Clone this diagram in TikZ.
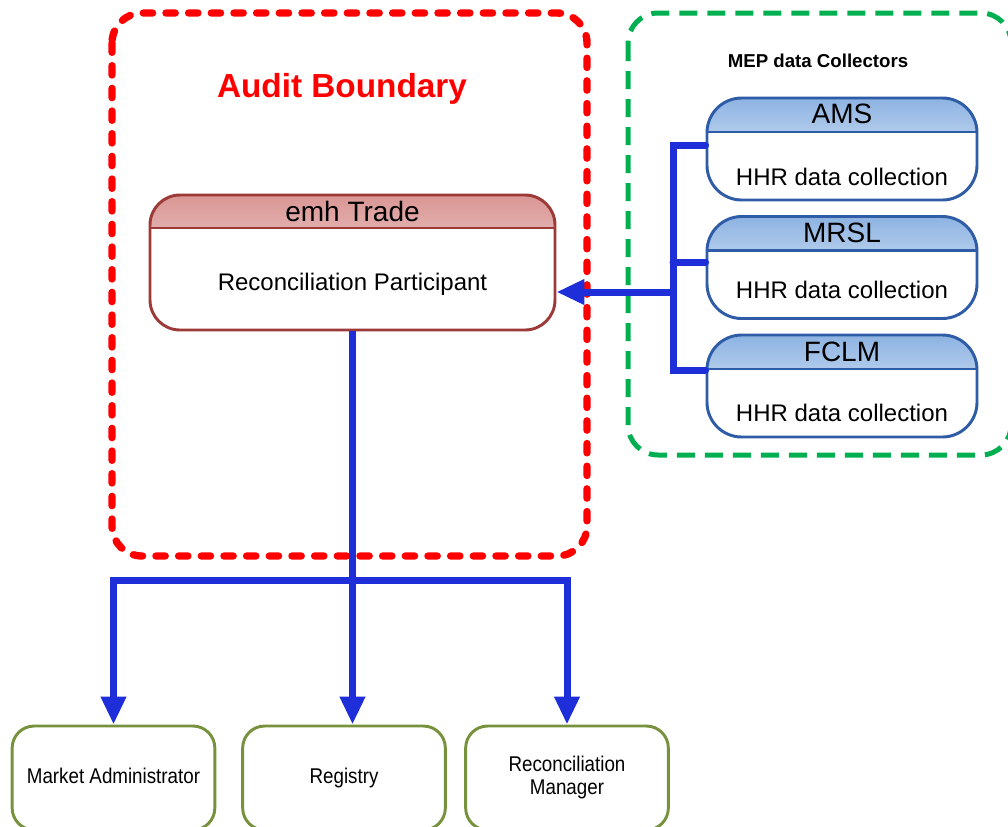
\documentclass[tikz,border=0pt]{standalone}
\usepackage{fontspec}
\setmainfont{Liberation Sans}
\usetikzlibrary{arrows.meta,calc}
\definecolor{auditred}{HTML}{FF0000}
\definecolor{mepgreen}{HTML}{00B050}
\definecolor{emhc}{HTML}{9B3A36}
\definecolor{emhtop}{HTML}{D99694}
\definecolor{bluec}{HTML}{2E5CA6}
\definecolor{bluetop}{HTML}{8DB3E2}
\definecolor{olive}{HTML}{76923C}
\definecolor{arrblue}{HTML}{1E2ED8}
\tikzset{
  auditbox/.style={draw=auditred, line width=5.5pt, line cap=round, dash pattern=on 7pt off 10pt, rounded corners=22.5pt},
  mepbox/.style={draw=mepgreen, line width=3.75pt, dash pattern=on 13.5pt off 7.5pt, rounded corners=22.5pt},
  emhbox/.style={draw=emhc, line width=2.2pt, rounded corners=22.5pt, inner sep=0pt,
    minimum width=303.75pt, minimum height=101.25pt,
    path picture={
      \shade[sharp corners, top color=emhtop, bottom color=emhtop!8] (path picture bounding box.north west) rectangle ([yshift=-24.75pt]path picture bounding box.north east);
      \draw[sharp corners, emhc, line width=1.8pt] ([yshift=-24.75pt]path picture bounding box.north west) -- ([yshift=-24.75pt]path picture bounding box.north east);
    }},
  collbox/.style={draw=bluec, line width=2.2pt, rounded corners=26pt, inner sep=0pt,
    minimum width=202.5pt, minimum height=76.5pt,
    path picture={
      \shade[sharp corners, top color=bluetop, bottom color=bluetop!10] (path picture bounding box.north west) rectangle ([yshift=-25.5pt]path picture bounding box.north east);
      \draw[sharp corners, bluec, line width=1.8pt] ([yshift=-25.5pt]path picture bounding box.north west) -- ([yshift=-25.5pt]path picture bounding box.north east);
    }},
  partybox/.style={draw=olive, line width=2.2pt, rounded corners=16.5pt, inner sep=0pt,
    minimum width=152pt, minimum height=78pt, align=center},
  titletext/.style={font=\fontsize{21}{24}\selectfont, inner sep=0pt},
  bodytext/.style={font=\fontsize{18}{21}\selectfont, inner sep=0pt},
  flow/.style={draw=arrblue, line width=5.25pt, line join=miter},
  flowarrow/.style={flow, -{Triangle[width=18pt,length=21pt]}},
}
\newcommand{\narrowtext}[1]{\scalebox{0.88}[1]{\fontsize{16}{17.5}\selectfont\begin{tabular}{@{}c@{}}#1\end{tabular}}}
\begin{document}
\begin{tikzpicture}[x=0.75pt,y=-0.75pt]
\useasboundingbox (0,0) rectangle (1008,826);
\clip (0,0) rectangle (1008,826);

% boundaries
\draw[auditbox] (112,13) rectangle (587,556);
\node[font=\bfseries\fontsize{25}{28}\selectfont, text=auditred, inner sep=0pt] (audit) at (342,89) {Audit Boundary};
\draw[mepbox] (628,13) rectangle (1011,455);
\node[font=\bfseries\fontsize{14}{16}\selectfont, inner sep=0pt] (mep) at (818,61) {MEP data Collectors};

% emh Trade
\node[emhbox] (emh) at (352.5,262.5) {};
\node[titletext] (emhT) at (352.5,211) {emh Trade};
\node[bodytext] (emhB) at (352.5,284) {Reconciliation Participant};

% collectors
\node[collbox] (ams) at (842,149) {};
\node[titletext] (amsT) at (842,114) {AMS};
\node[bodytext] (amsB) at (842,177) {HHR data collection};
\node[collbox] (mrsl) at (842,267.5) {};
\node[titletext] (mrslT) at (842,233) {MRSL};
\node[bodytext] (mrslB) at (842,290) {HHR data collection};
\node[collbox] (fclm) at (842,386) {};
\node[titletext] (fclmT) at (842,352) {FCLM};
\node[bodytext] (fclmB) at (842,413) {HHR data collection};

% parties
\node[partybox] (ma) at (113.5,778) {};
\node[inner sep=0pt] (maT) at (113.5,778.5) {\narrowtext{Market Administrator}};
\node[partybox] (reg) at (344,778) {};
\node[inner sep=0pt] (regT) at (344,778.5) {\narrowtext{Registry}};
\node[partybox] (rm) at (567,778) {};
\node[inner sep=0pt] (rmT) at (567,778) {\narrowtext{Reconciliation\\Manager}};

% collector bus
\coordinate (bt) at (673,145);
\coordinate (bm) at (673,262);
\coordinate (bb) at (673,370);
\coordinate (jn) at (673,292);
\draw[flow, line cap=round] (ams.west |- bt) -- (bt) -- (bb) -- (fclm.west |- bb);
\draw[flow, line cap=round] (bm) -- (mrsl.west |- bm);
\draw[flowarrow] (jn) -- (jn -| emh.east);

% distribution
\coordinate (dist) at (350,580);
\draw[flowarrow] (dist) -| (ma.north);
\draw[flowarrow] (dist) -| (rm.north);
\draw[flowarrow] (emh.south) -- (emh.south |- reg.north);
\end{tikzpicture}
\end{document}
